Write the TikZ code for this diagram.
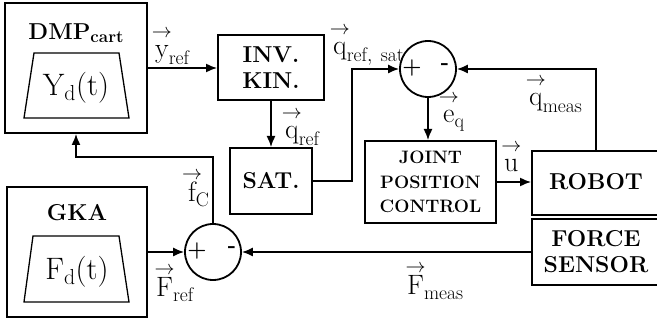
\RequirePackage{fix-cm}
\documentclass[tikz,border=0pt]{standalone}
\usepackage{fontspec}
\usetikzlibrary{arrows.meta}
\newcommand{\va}[2][0.72em]{\setbox0\hbox{$\mathrm{#2}$}\rlap{\hbox to \wd0{\hss\raisebox{#1}{\fontsize{20}{20}\selectfont$\rightarrow$}\hss}}\box0}
\begin{document}
\begin{tikzpicture}[x=1pt,y=-1pt,
  blk/.style={draw,line width=2pt,inner sep=0pt,align=center},
  sumc/.style={draw,circle,line width=1.8pt,inner sep=0pt,minimum size=56pt},
  conn/.style={line width=1.5pt},
  arr/.style={conn,-{Latex[length=11pt,width=9pt]}},
  trap/.style={line width=1.3pt},
  btxt/.style={font=\fontsize{23}{26}\selectfont\bfseries,inner sep=0pt,align=center},
  stxt/.style={font=\fontsize{18}{24.5}\selectfont\bfseries,inner sep=0pt,align=center},
  lbl/.style={font=\fontsize{28}{30}\selectfont,inner sep=0pt,anchor=base west},
  big/.style={font=\fontsize{31}{33}\selectfont,inner sep=0pt},
  sgn/.style={font=\fontsize{22}{22}\selectfont\bfseries,inner sep=0pt}]
\useasboundingbox (0,0) rectangle (657,320);

% blocks
\node[blk,minimum width=142pt,minimum height=130pt] (dmp) at (76,68) {};
\node[btxt] (dmpt) at (76,33) {DMP\raisebox{-0.35ex}{\fontsize{17}{17}\selectfont cart}};
\draw[trap] (34,53) -- (119,53) -- (129,118) -- (24,118) -- cycle;
\node[big] (yd) at (76,88) {$\mathrm{Y_d(t)}$};

\node[blk,minimum width=140pt,minimum height=130pt] (gka) at (77,252) {};
\node[btxt] (gkat) at (77,213) {GKA};
\draw[trap] (33,236) -- (119,236) -- (129,302) -- (24,302) -- cycle;
\node[big] (fd) at (77,272) {$\mathrm{F_d(t)}$};

\node[blk,btxt,minimum width=106pt,minimum height=65pt] (inv) at (271,67.5) {INV.\\KIN.};
\node[blk,btxt,minimum width=82pt,minimum height=66pt] (sat) at (271,181) {SAT.};
\node[blk,stxt,minimum width=131pt,minimum height=82pt] (jpc) at (430.5,182) {JOINT\\POSITION\\CONTROL};
\node[blk,btxt,minimum width=140pt,minimum height=64pt,anchor=west] (robot) at (531,183) {};
\node[btxt] (robott) at (596,182) {ROBOT};
\node[blk,btxt,minimum width=140pt,minimum height=66pt,anchor=west] (fs) at (531,252) {};
\node[btxt] (fst) at (596,252) {FORCE\\SENSOR};

% summing junctions
\node[sumc] (sum1) at (428,69) {};
\node[sgn] (p1) at (412,68) {+};
\node[sgn] (m1) at (445,67) {-};
\node[sumc] (sum2) at (213,252) {};
\node[sgn] (p2) at (197,251) {+};
\node[sgn] (m2) at (232,250) {-};

% helper coordinates
\coordinate (c1) at (352,0);
\coordinate (c3) at (0,157);

% connectors
\draw[arr] (dmp.east) -- (dmp.east -| inv.west);
\draw[arr] (inv.south) -- (sat.north);
\draw[arr] (sat.east) -- (sat.east -| c1) |- (sum1.west);
\draw[arr] (sum1.south) -- (sum1.south |- jpc.north);
\draw[arr] (jpc.east) -- (jpc.east -| robot.west);
\draw[arr] (robott.north |- robot.north) |- (sum1.east);
\draw[arr] (fs.west) -- (sum2.east);
\draw[arr] (gka.east) -- (sum2.west);
\draw[arr] (sum2.north) |- (dmp.south |- c3) -- (dmp.south);

% labels
\node[lbl] (lyref) at (155,58) {$\hbox{\va{y}}_{\mathrm{ref}}$};
\node[lbl] (lqsat) at (333,55) {$\hbox{\va{q}}_{\mathrm{ref,\ sat}}$};
\node[lbl] (lqref) at (285,139) {$\hbox{\va{q}}_{\mathrm{ref}}$};
\node[lbl] (leq) at (443,123) {$\hbox{\va{e}}_{\mathrm{q}}$};
\node[lbl] (lqmeas) at (529,106) {$\hbox{\va{q}}_{\mathrm{meas}}$};
\node[lbl] (lu) at (504,172) {$\hbox{\va{u}}$};
\node[lbl] (lfc) at (188,202) {$\hbox{\va[0.82em]{f}}_{\mathrm{C}}$};
\node[lbl] (lfref) at (156,297) {$\hbox{\va[0.82em]{F}}_{\mathrm{ref}}$};
\node[lbl] (lfmeas) at (407,295) {$\hbox{\va[0.82em]{F}}_{\mathrm{meas}}$};
\end{tikzpicture}
\end{document}
